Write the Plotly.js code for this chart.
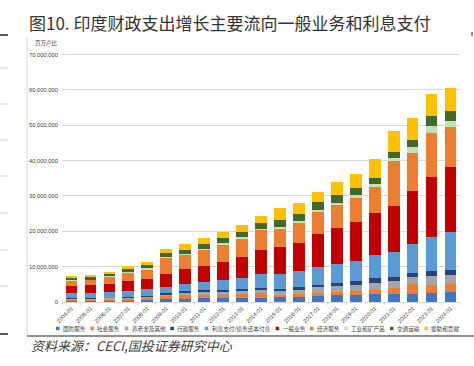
<!DOCTYPE html>
<html><head><meta charset="utf-8">
<script src="https://cdn.plot.ly/plotly-3.0.1.min.js"></script>
<style>html,body{margin:0;padding:0;background:#fff}#chart{width:474px;height:366px}</style>
</head><body><div id="chart"></div>
<script>
// Categories
const years = ['2004-01','2005-01','2006-01','2007-01','2008-01','2009-01','2010-01','2011-01','2012-01','2013-01','2014-01','2015-01','2016-01','2017-01','2018-01','2019-01','2020-01','2021-01','2022-01','2023-01','2024-01'];

// Series values, in millions of 百万卢比
const defense   = [0.25,0.27,0.30,0.38,0.47,0.75,0.94,1.13,1.13,1.23,1.23,1.42,1.50,1.70,1.89,1.98,2.17,2.17,2.36,2.64,2.74];
const social    = [0.30,0.30,0.38,0.47,0.57,0.85,0.94,0.94,0.94,0.94,1.23,0.57,0.85,0.94,0.94,1.04,1.32,1.70,2.64,2.08,2.26];
const pension   = [0.28,0.28,0.38,0.38,0.47,0.47,0.66,0.75,0.85,0.85,0.94,1.04,1.04,1.50,1.70,1.89,1.98,2.17,2.08,2.74,2.55];
const admin     = [0.19,0.28,0.19,0.28,0.28,0.38,0.47,0.47,0.57,0.66,0.66,0.66,0.75,0.75,0.85,0.94,1.32,1.13,1.23,1.32,1.42];
const interest  = [1.42,1.42,1.51,1.60,1.79,1.90,2.08,2.36,2.64,3.20,3.87,4.25,4.53,5.10,5.38,5.85,6.42,7.08,8.21,9.62,10.94];
const general   = [2.17,2.26,2.45,2.74,2.92,3.70,4.25,4.43,5.28,5.75,6.89,7.55,8.02,9.15,10.20,11.04,11.98,13.02,14.91,17.08,18.40];
const economic  = [1.42,1.32,1.79,2.45,2.64,4.30,3.87,4.53,4.72,5.28,5.47,5.28,5.66,6.23,6.42,6.70,7.36,12.55,10.75,12.45,11.13];
const industry  = [0.19,0.19,0.28,0.28,0.38,0.47,0.38,0.38,0.47,0.47,0.47,0.47,0.57,0.75,0.75,0.75,0.75,1.04,1.60,1.98,1.79];
const transport = [0.66,0.66,0.66,0.75,0.85,0.94,1.23,1.50,1.50,1.50,1.60,2.08,2.08,2.08,2.08,2.17,1.89,1.70,2.17,2.64,2.83];
const aid       = [0.47,0.57,0.66,0.94,1.04,1.13,1.50,1.50,1.80,1.90,2.08,3.40,3.02,2.83,3.87,3.87,5.19,5.75,6.23,6.23,6.60];

const seriesNames  = ['国防服务','社会服务','养老金及其他','行政服务','利息支付/债务还本付息','一般业务','经济服务','工业和矿产品','交通运输','援助和贡献'];
const seriesValues = [defense,social,pension,admin,interest,general,economic,industry,transport,aid];
const seriesColors = ['#4472C4','#ED7D31','#A5A5A5','#264478','#5B9BD5','#C00000','#ED7D31','#C5E0B4','#43682B','#FFC000'];

const UNIT = 1e6;
const yTickVals = [0,10e6,20e6,30e6,40e6,50e6,60e6,70e6];

const titleText = '图10. 印度财政支出增长主要流向一般业务和利息支付';
const unitText = '百万卢比';
const sourceText = '资料来源：CECI,国投证券研究中心';

// Layout geometry
const W=474,H=366,ML=62,MR=14,MT=51,MB=64;
const PW=W-ML-MR, PH=H-MT-MB;
const px = v => (v-ML)/PW;
const py = v => (H-MB-v)/PH;
const CJK = '"Noto Sans CJK SC", "Noto Sans", sans-serif';
const LAT = 'Arial, "Liberation Sans", sans-serif';

const traces = seriesNames.map((n,i)=>({
  type:'bar', name:n, x:years, y:seriesValues[i].map(v=>v*UNIT),
  marker:{color:seriesColors[i], line:{width:0}}, hoverinfo:'x+y+name'
}));

const annotations = [
  {text:titleText, xref:'paper', yref:'paper', x:px(27), y:py(22), xanchor:'left', yanchor:'middle', showarrow:false,
   font:{family:CJK, size:17, color:'#333'}},
  {text:unitText, xref:'paper', yref:'paper', x:px(33), y:py(43), xanchor:'left', yanchor:'middle', showarrow:false,
   font:{family:CJK, size:5.5, color:'#404040'}},
  {text:'<i>'+sourceText+'</i>', xref:'paper', yref:'paper', x:px(29), y:py(345), xanchor:'left', yanchor:'middle', showarrow:false,
   font:{family:CJK, size:13, color:'#404040'}}
];
const shapes = [];
// manual legend
const LFS = 5.6, LY = 328.5;
let lx = 56;
seriesNames.forEach((n,i)=>{
  shapes.push({type:'rect', xref:'paper', yref:'paper', x0:px(lx), x1:px(lx+3.5), y0:py(LY+1.75), y1:py(LY-1.75),
    fillcolor:seriesColors[i], line:{width:0}});
  annotations.push({text:n, xref:'paper', yref:'paper', x:px(lx+5), y:py(LY), xanchor:'left', yanchor:'middle', showarrow:false,
    font:{family:CJK, size:LFS, color:'#404040'}});
  let len = 0; for (const ch of n) len += (ch.charCodeAt(0) > 255 ? 1 : 0.5);
  lx += len*LFS + 12;
});
// page decoration
const line = (x0,y0,x1,y1,color,w)=>({type:'line', xref:'paper', yref:'paper', x0:px(x0), x1:px(x1), y0:py(y0), y1:py(y1), line:{color:color, width:w}});
shapes.push(line(0,35,8,35,'#222',1.5));
shapes.push(line(472,32,472,36,'#222',1));
[68,104,140,176,213,250,286].forEach(y=>shapes.push(line(0,y,8,y,'#D0D0D0',1)));
shapes.push(line(27,37,27,336,'#D9D9D9',1));
shapes.push(line(0,334,8,334,'#222',1.5));
shapes.push(line(27,336,474,336,'#222',1.2));

const layout = {
  width:W, height:H, margin:{l:ML,r:MR,t:MT,b:MB,pad:0},
  paper_bgcolor:'#fff', plot_bgcolor:'#fff',
  barmode:'stack', bargap:0.38, showlegend:false,
  font:{family:CJK, color:'#404040'},
  xaxis:{type:'category', tickangle:-45, tickfont:{size:5.6, color:'#404040', family:LAT},
    ticks:'outside', tickson:'boundaries', ticklen:2, tickcolor:'#D9D9D9', showline:true, linecolor:'#D9D9D9', linewidth:1,
    showgrid:false, zeroline:false, fixedrange:true},
  yaxis:{range:[0,71e6], tickvals:yTickVals, tickformat:',', tickfont:{size:5.8, color:'#404040', family:LAT},
    showgrid:true, gridcolor:'#D9D9D9', gridwidth:1, zeroline:false, showline:false, ticks:'', ticklabelstandoff:3, fixedrange:true},
  annotations:annotations, shapes:shapes
};
Plotly.newPlot('chart', traces, layout, {displayModeBar:false, staticPlot:true});
</script></body></html>
